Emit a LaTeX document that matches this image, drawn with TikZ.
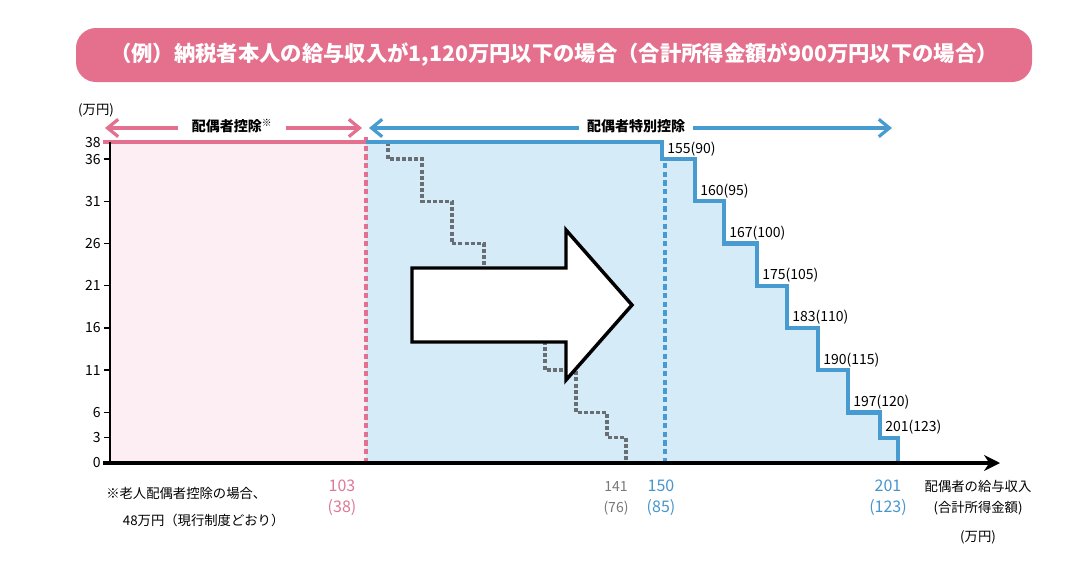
\documentclass[tikz,border=0pt]{standalone}
\usepackage{fontspec}
\setmainfont{Noto Sans CJK JP}
\usetikzlibrary{arrows.meta}
\definecolor{pinkline}{RGB}{226,112,142}
\definecolor{pinktext}{RGB}{222,120,152}
\definecolor{pinkfill}{RGB}{252,238,242}
\definecolor{blueline}{RGB}{72,155,208}
\definecolor{bluetext}{RGB}{70,150,205}
\definecolor{bluefill}{RGB}{214,235,248}
\definecolor{grayline}{RGB}{105,110,116}
\definecolor{graytext}{RGB}{120,120,120}
\definecolor{banner}{RGB}{228,112,142}

\begin{document}
\begin{tikzpicture}[x=0.75pt,y=-0.75pt,
    num/.style={font=\fontsize{10.5}{12}\selectfont,inner sep=0pt,anchor=east},
    steplbl/.style={font=\fontsize{10.5}{12}\selectfont,inner sep=0pt,anchor=base west},
    xlbl/.style={font=\fontsize{12}{15.75}\selectfont,align=center,inner sep=0pt},
    note/.style={font=\fontsize{10}{20}\selectfont,inner sep=0pt},
    headlbl/.style={font=\fontsize{10.5}{12}\selectfont\bfseries,inner sep=0pt},
    pinkarrow/.style={pinkline,line width=2.4pt,-{Straight Barb[length=8pt,width=13pt]}},
    bluearrow/.style={blueline,line width=2.4pt,-{Straight Barb[length=8pt,width=13pt]}}]
    \useasboundingbox (0,0) rectangle (1080,564);
    \fill[white] (0,0) rectangle (1080,564);
    \node[fill=banner,rounded corners=15pt,minimum width=717pt,minimum height=40.5pt,
        text=white,font=\fontsize{16}{18}\selectfont\bfseries] (title) at (554,55)
        {（例）納税者本人の給与収入が1,120万円以下の場合（合計所得金額が900万円以下の場合）};
    \begin{scope}[shift={(0,463)},y=6.33pt]
        \fill[pinkfill] (110,0) rectangle (366,38);
        \fill[bluefill] (366,0) -- (366,38) -| (662,36) -| (695,31) -| (724,26) -| (757,21) -| (787,16) -| (818,11) -| (848,6) -| (880,3) -| (898,0) -- cycle;
        \draw[grayline,line width=2.6pt,dash pattern=on 3pt off 1.6pt] (388,38) |- (422,36) |- (452,31) |- (484,26) |- (515,21) |- (545,16) |- (576,11) |- (607,6) |- (626,3) -- (626,0);
        \draw[pinkline,line width=2.6pt,dash pattern=on 4pt off 2.5pt] (366,0) -- (366,38.9);
        \draw[blueline,line width=2.6pt,dash pattern=on 4pt off 2.5pt] (665,0) -- (665,35.6);
        \draw[pinkline,line width=3.2pt] (103,38) -- (366,38);
        \draw[blueline,line width=3.2pt] (366,38) -| (662,36) -| (695,31) -| (724,26) -| (757,21) -| (787,16) -| (818,11) -| (848,6) -| (880,3) -| (898,0);
        \draw[line width=1pt] (110,0) -- (110,38);
        \foreach \v in {36,31,26,21,16,11,6,3}
            \draw[line width=1pt] (104,\v) -- (110,\v);
        \foreach \v in {0,3,6,11,16,21,26,31,36,38}
            \node[num] at (101,\v) {\v};
        \foreach \x/\v/\t in {662/36/{155(90)},695/31/{160(95)},724/26/{167(100)},757/21/{175(105)},787/16/{183(110)},818/11/{190(115)},848/6/{197(120)},880/3/{201(123)}}
            \node[steplbl,yshift=4.5pt] at ({\x+5},\v) {\t};
        \coordinate (xend) at (1000,0);
        \draw[line width=3.6pt,-{Stealth[length=12pt,width=12pt,inset=4pt]}] (103,0) -- (xend);
    \end{scope}
    \draw[line width=2.6pt,fill=white,line join=miter] (412,268) -- (566,268) -- (566,230) -- (632,305) -- (566,380) -- (566,342) -- (412,342) -- cycle;
    \node[note] (unit) at (96,110) {(万円)};
    \coordinate (pl) at (105,128);
    \coordinate (pr) at (362,128);
    \node[headlbl,inner xsep=10pt] (spouse) at (232,126) {配偶者控除\textsuperscript{※}};
    \draw[pinkarrow] (pl -| spouse.west) -- (pl);
    \draw[pinkarrow] (pr -| spouse.east) -- (pr);
    \coordinate (bl) at (369,128);
    \coordinate (br) at (892,128);
    \node[headlbl,inner xsep=6pt] (special) at (636,126) {配偶者特別控除};
    \draw[bluearrow] (bl -| special.west) -- (bl);
    \draw[bluearrow] (br -| special.east) -- (br);
    \node[xlbl,text=pinktext] (x103) at (342,498) {103\\(38)};
    \node[xlbl,text=graytext,font=\fontsize{10.5}{15.75}\selectfont] (x141) at (616,498) {141\\(76)};
    \node[xlbl,text=bluetext] (x150) at (661,498) {150\\(85)};
    \node[xlbl,text=bluetext] (x201) at (888,498) {201\\(123)};
    \node[note,align=center,font=\fontsize{10}{15.75}\selectfont] (xtitle) at (978,512) {配偶者の給与収入\\(合計所得金額)\\[6pt](万円)};
    \node[note,align=left,anchor=west] (oldage) at (106,507) {※老人配偶者控除の場合、\\\hspace*{1.25em}48万円（現行制度どおり）};
\end{tikzpicture}
\end{document}
